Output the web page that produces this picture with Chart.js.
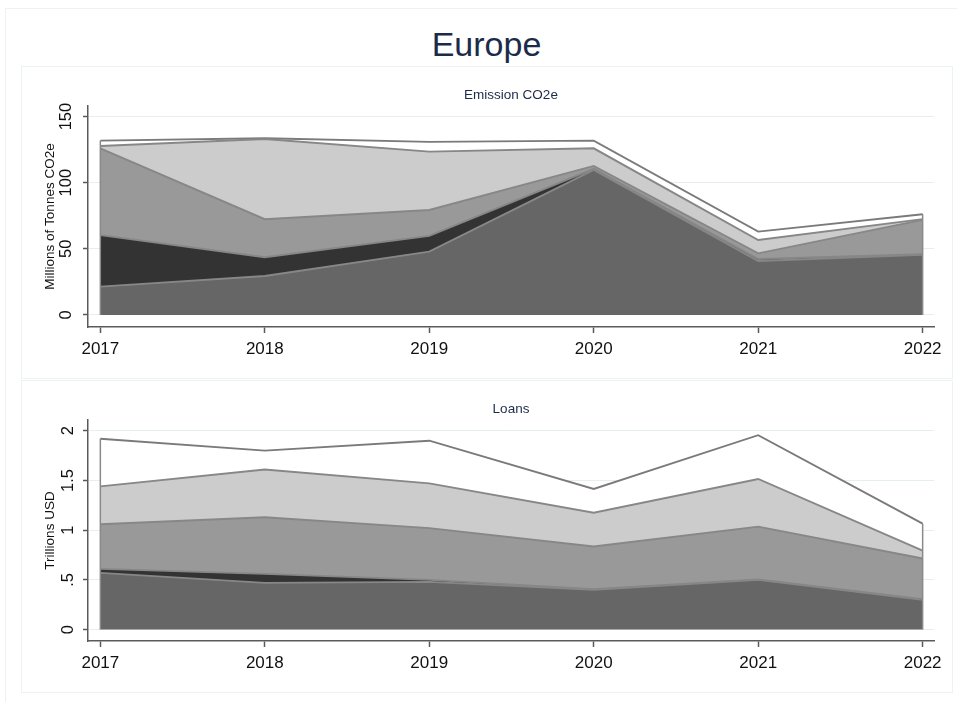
<!DOCTYPE html>
<html>
<head>
<meta charset="utf-8">
<script src="https://cdn.jsdelivr.net/npm/chart.js@4.4.1/dist/chart.umd.min.js"></script>
<style>
  body { margin: 0; background: #fff; width: 957px; height: 702px; position: relative; overflow: hidden;
         font-family: "Liberation Sans", Arial, sans-serif; }
  .box { position: absolute; box-sizing: border-box; border: 1.5px solid #edf2f3; }
  #title { position: absolute; left: 21px; width: 931px; top: 24px; text-align: center;
           font-size: 34px; line-height: 40px; color: #1c2b4a; }
  canvas { position: absolute; }
</style>
</head>
<body>
<div class="box" style="left:5px;top:8px;width:960px;height:700px;"></div>
<div class="box" style="left:21px;top:66px;width:932px;height:313px;"></div>
<div class="box" style="left:21px;top:380px;width:932px;height:313px;"></div>
<div id="title">Europe</div>
<canvas id="emis" width="931" height="311" style="left:21px;top:67px;"></canvas>
<canvas id="loans" width="931" height="310" style="left:21px;top:382px;"></canvas>
<script>
// Años y colores de las capas (de abajo hacia arriba)
const years = [2017, 2018, 2019, 2020, 2021, 2022];
const layerColors = ['#666666', '#333333', '#999999', '#cccccc', '#ffffff'];

// Emisiones CO2e (millones de toneladas), una serie por capa
const emis1 = [21.4, 29.5, 47.9, 109.7, 40.8, 45.4];
const emis2 = [39.0, 14.1, 11.9, 0.8, 1.5, 0.5];
const emis3 = [65.6, 28.8, 19.6, 2.2, 4.3, 26.0];
const emis4 = [1.8, 60.7, 44.1, 13.3, 10.1, 0.6];
const emis5 = [4.0, 0.5, 7.4, 5.8, 6.3, 3.7];
const emisTicks = [0, 50, 100, 150];
const emisTickLabels = ['0', '50', '100', '150'];

// Préstamos (billones USD)
const loan1 = [0.57, 0.47, 0.48, 0.40, 0.50, 0.30];
const loan2 = [0.04, 0.09, 0.02, 0.005, 0.005, 0.005];
const loan3 = [0.45, 0.57, 0.52, 0.43, 0.53, 0.41];
const loan4 = [0.38, 0.48, 0.45, 0.34, 0.48, 0.08];
const loan5 = [0.48, 0.19, 0.43, 0.24, 0.44, 0.27];
const loanTicks = [0, 0.5, 1, 1.5, 2];
const loanTickLabels = ['0', '.5', '1', '1.5', '2'];

const FONT = '"Liberation Sans", Arial, sans-serif';
const AXIS = '#5a5a5a';

// Líneas verticales en los extremos del área apilada
const edgePlugin = {
    id: 'edges',
    afterDatasetsDraw(chart) {
        const n = chart.data.datasets.length;
        const pts = chart.getDatasetMeta(n - 1).data;
        const base = chart.scales.y.getPixelForValue(0);
        const ctx = chart.ctx;
        ctx.save();
        ctx.strokeStyle = '#8a8a8a';
        ctx.lineWidth = 1.5;
        [pts[0], pts[pts.length - 1]].forEach(p => {
            ctx.beginPath();
            ctx.moveTo(p.x, p.y);
            ctx.lineTo(p.x, base);
            ctx.stroke();
        });
        ctx.restore();
    }
};

function makeChart(id, title, yTitle, series, yMin, yMax, tickVals, tickLabels, titlePad) {
    const ctx = document.getElementById(id).getContext('2d');
    return new Chart(ctx, {
        type: 'line',
        data: {
            datasets: series.map((vals, i) => ({
                data: years.map((yr, j) => ({ x: yr, y: vals[j] })),
                backgroundColor: layerColors[i],
                borderColor: i === series.length - 1 ? '#7a7a7a' : '#878787',
                borderWidth: 1.9,
                pointRadius: 0,
                tension: 0,
                fill: i === 0 ? 'origin' : '-1'
            }))
        },
        options: {
            responsive: false,
            animation: false,
            layout: { padding: { left: 0, right: 18, top: 0, bottom: 0 } },
            plugins: {
                legend: { display: false },
                tooltip: { enabled: false },
                title: {
                    display: true,
                    text: title,
                    fullSize: false,
                    color: '#1c2b4a',
                    font: { family: FONT, size: 13.5, weight: 'normal' },
                    padding: titlePad
                }
            },
            scales: {
                x: {
                    type: 'linear',
                    min: 2016.925,
                    max: 2022.069,
                    afterBuildTicks: s => { s.ticks = years.map(v => ({ value: v })); },
                    afterFit: s => { s.height = 51; },
                    ticks: {
                        callback: v => String(v),
                        color: '#111',
                        font: { family: FONT, size: 17 },
                        padding: 6,
                        maxRotation: 0
                    },
                    grid: { drawOnChartArea: false, tickLength: 6, tickColor: AXIS, tickWidth: 1.5 },
                    border: { color: AXIS, width: 1.5 }
                },
                y: {
                    stacked: true,
                    min: yMin,
                    max: yMax,
                    afterBuildTicks: s => { s.ticks = tickVals.map(v => ({ value: v })); },
                    afterFit: s => { s.width = 67; },
                    ticks: {
                        callback: (v, i) => tickLabels[i],
                        color: '#111',
                        font: { family: FONT, size: 16.5 },
                        minRotation: 90,
                        maxRotation: 90,
                        crossAlign: 'center',
                        padding: 3
                    },
                    grid: { color: '#e6eef0', lineWidth: 1, tickLength: 5, tickColor: AXIS, tickWidth: 1.5 },
                    border: { color: AXIS, width: 1.5 },
                    title: {
                        display: true,
                        text: yTitle,
                        color: '#111',
                        font: { family: FONT, size: 13.5 },
                        padding: { top: 21, bottom: 0 }
                    }
                }
            }
        },
        plugins: [edgePlugin]
    });
}

makeChart('emis', 'Emission CO2e', 'Millions of Tonnes CO2e',
    [emis1, emis2, emis3, emis4, emis5], -9.1, 158, emisTicks, emisTickLabels,
    { top: 19.9, bottom: 2.9 });

makeChart('loans', 'Loans', 'Trillions USD',
    [loan1, loan2, loan3, loan4, loan5], -0.115, 2.108, loanTicks, loanTickLabels,
    { top: 18.9, bottom: 2.9 });
</script>
</body>
</html>
